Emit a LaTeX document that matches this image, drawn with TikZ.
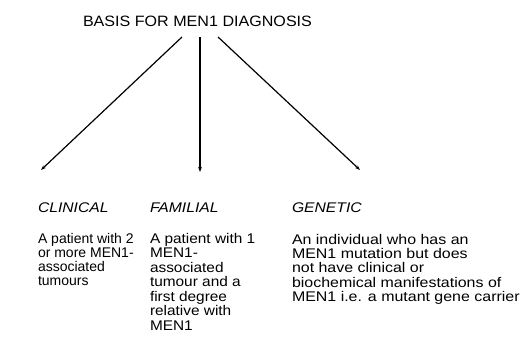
\documentclass[tikz,border=0pt]{standalone}
\usepackage{fontspec}
\setmainfont{Liberation Sans}
\usepackage{graphicx}
\usetikzlibrary{arrows.meta}
\newcommand{\blk}[2]{\scalebox{#1}[1]{\begin{tabular}[t]{@{}l@{}}#2\end{tabular}}}
\begin{document}
\begin{tikzpicture}[x=1pt,y=-1pt,
  every node/.style={inner sep=0pt, outer sep=0pt},
  body/.style={anchor=base west, font=\fontsize{14}{14}\selectfont},
  head/.style={anchor=base west, font=\fontsize{14}{14}\selectfont\itshape},
  arr/.style={line width=1.2pt, -{Stealth[length=5pt,width=3.6pt]}}]
\useasboundingbox[fill=white] (0,0) rectangle (521,339);
\node[anchor=base west, font=\fontsize{15}{15}\selectfont] (title) at (83,27) {\scalebox{1.073}[1]{BASIS FOR MEN1 DIAGNOSIS}};
\coordinate (s1) at (182,37);
\coordinate (s2) at (200,37);
\coordinate (s3) at (218,37);
\coordinate (e1) at (41,170);
\coordinate (e2) at (200,172);
\coordinate (e3) at (360,170);
\draw[arr] (s1) -- (e1);
\draw[arr] (s2) -- (e2);
\draw[arr] (s3) -- (e3);
\node[head] (h1) at (38,212) {\scalebox{1.12}[1]{CLINICAL}};
\node[head] (h2) at (150,212) {\scalebox{1.12}[1]{FAMILIAL}};
\node[head] (h3) at (292,212) {\scalebox{1.12}[1]{GENETIC}};
\node[body] (b1) at (38,243) {\blk{1.0}{A patient with 2\\or more MEN1-\\associated\\tumours}};
\node[body, font=\fontsize{14}{14.5}\selectfont] (b2) at (150,243) {\blk{1.1}{A patient with 1\\MEN1-\\associated\\tumour and a\\first degree\\relative with\\MEN1}};
\node[body] (b3) at (292,244) {\blk{1.14}{An individual who has an\\MEN1 mutation but does\\not have clinical or\\biochemical manifestations of\\MEN1 i.e. a mutant gene carrier}};
\end{tikzpicture}
\end{document}
